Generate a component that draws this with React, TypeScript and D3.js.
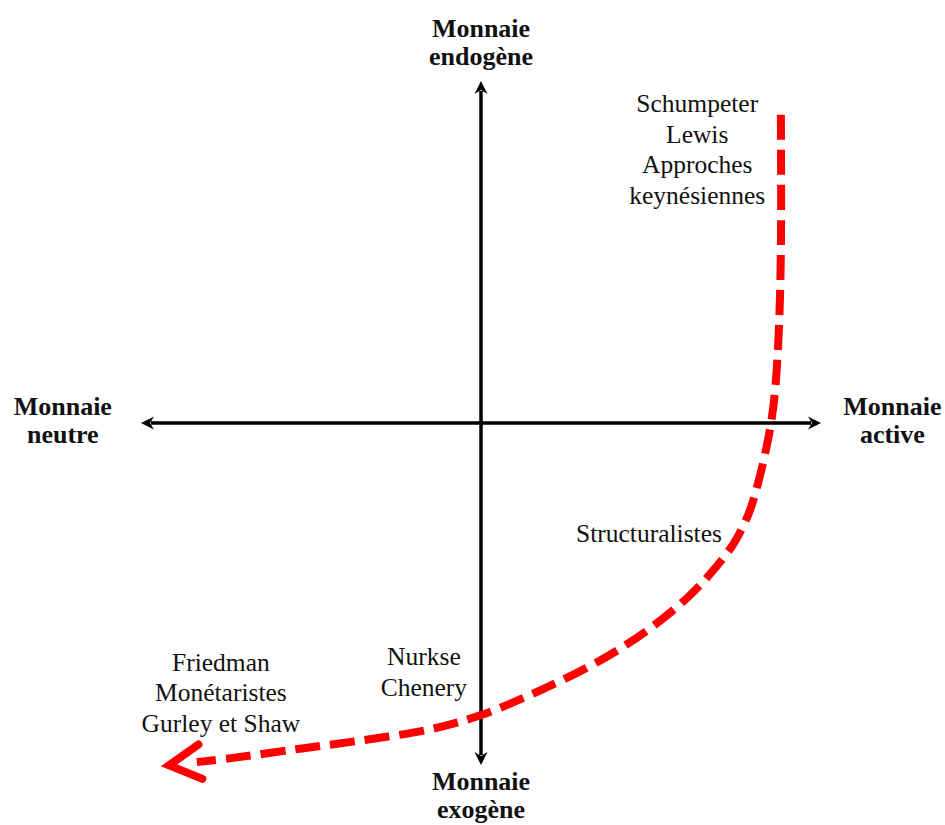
import React, { useEffect, useRef } from "react";
import * as d3 from "d3";

const width = 945;
const height = 825;

// curve of the red dashed arrow, in axis units (-1..1)
const curveX = [0.882, 0.882, 0.876, 0.865, 0.853, 0.838, 0.815, 0.788, 0.744, 0.676, 0.609, 0.491, 0.353, 0.176, 0.0, -0.147, -0.344, -0.538, -0.735, -0.9];
const curveY = [0.901, 0.506, 0.272, 0.096, 0.0, -0.079, -0.175, -0.263, -0.351, -0.439, -0.509, -0.605, -0.693, -0.781, -0.854, -0.895, -0.927, -0.953, -0.98, -0.999];

// axis end labels (x = centre, y = first baseline)
const axisLabels = [
  { lines: ["Monnaie", "endogène"], x: 0, y: 1.13 },
  { lines: ["Monnaie", "exogène"], x: 0, y: -1.073 },
  { lines: ["Monnaie", "neutre"], x: -1.23, y: 0.023 },
  { lines: ["Monnaie", "active"], x: 1.21, y: 0.023 },
];

// school / author labels (x = centre, y = first baseline)
const schoolLabels = [
  { lines: ["Schumpeter", "Lewis", "Approches", "keynésiennes"], x: 0.636, y: 0.909 },
  { lines: ["Structuralistes"], x: 0.494, y: -0.348 },
  { lines: ["Nurkse", "Chenery"], x: -0.168, y: -0.709 },
  { lines: ["Friedman", "Monétaristes", "Gurley et Shaw"], x: -0.765, y: -0.725 },
];

const serif = "'Liberation Serif', 'Times New Roman', serif";

export default function App() {
  const svgRef = useRef<SVGSVGElement>(null);

  useEffect(() => {
    const svg = d3.select(svgRef.current);
    svg.selectAll("*").remove();

    //scales: axis units to pixels, origin where the axes cross
    const x = d3.scaleLinear().domain([-1, 1]).range([141, 821]);
    const y = d3.scaleLinear().domain([-1, 1]).range([765, 81]);

    const axes = svg.append("g");
    axes.append("line")
      .attr("x1", x(-1) + 10).attr("x2", x(1) - 10)
      .attr("y1", y(0)).attr("y2", y(0))
      .attr("stroke", "#000").attr("stroke-width", 3.5);
    axes.append("line")
      .attr("x1", x(0)).attr("x2", x(0))
      .attr("y1", y(1) + 10).attr("y2", y(-1) - 10)
      .attr("stroke", "#000").attr("stroke-width", 3.5);

    // arrowheads: tip at (tx,ty) pointing along angle a
    const head = (tx: number, ty: number, a: number) => {
      const len = 13, half = 6.5, notch = 9;
      const pts = [
        [0, 0],
        [-len, -half],
        [-notch, 0],
        [-len, half],
      ].map(([px, py]) => [
        tx + px * Math.cos(a) - py * Math.sin(a),
        ty + px * Math.sin(a) + py * Math.cos(a),
      ]);
      return "M" + pts.map((p) => p.join(",")).join("L") + "Z";
    };
    const tips: [number, number, number][] = [
      [x(1), y(0), 0],
      [x(-1), y(0), Math.PI],
      [x(0), y(1), -Math.PI / 2],
      [x(0), y(-1), Math.PI / 2],
    ];
    axes.selectAll("path")
      .data(tips)
      .enter()
      .append("path")
      .attr("d", (d) => head(d[0], d[1], d[2]))
      .attr("fill", "#000");

    // red dashed curve
    const pts: [number, number][] = curveX.map((v, i) => [x(v), y(curveY[i])]);
    const line = d3.line().curve(d3.curveCatmullRom.alpha(0.5));
    const body = pts.slice(0, pts.length - 1);
    const last = pts[pts.length - 1];
    const prev = pts[pts.length - 2];
    const ang = Math.atan2(last[1] - prev[1], last[0] - prev[0]);
    const tip: [number, number] = [last[0] + 6 * Math.cos(ang), last[1] + 6 * Math.sin(ang)];
    svg.append("path")
      .attr("d", line([...body, [last[0] + 22 * Math.cos(ang + Math.PI), last[1] + 22 * Math.sin(ang + Math.PI)]]))
      .attr("fill", "none")
      .attr("stroke", "#ff0000")
      .attr("stroke-width", 8)
      .attr("stroke-dasharray", "25 10");

    // open chevron at the end of the curve
    const wing = 36, spread = 0.5;
    const chevron = [
      [tip[0] - wing * Math.cos(ang - spread), tip[1] - wing * Math.sin(ang - spread)],
      tip,
      [tip[0] - wing * Math.cos(ang + spread), tip[1] - wing * Math.sin(ang + spread)],
    ];
    svg.append("path")
      .attr("d", "M" + chevron.map((p) => p.join(",")).join("L"))
      .attr("fill", "none")
      .attr("stroke", "#ff0000")
      .attr("stroke-width", 8)
      .attr("stroke-linecap", "round")
      .attr("stroke-linejoin", "miter");

    // axis labels (bold)
    const lh = 28;
    axisLabels.forEach((d) => {
      const t = svg.append("text")
        .attr("text-anchor", "middle")
        .attr("font-family", serif)
        .attr("font-weight", "bold")
        .attr("font-size", 26)
        .attr("fill", "#111");
      d.lines.forEach((s, i) => {
        t.append("tspan").attr("x", x(d.x)).attr("y", y(d.y) + i * lh).text(s);
      });
    });

    // school labels
    schoolLabels.forEach((d) => {
      const t = svg.append("text")
        .attr("text-anchor", "middle")
        .attr("font-family", serif)
        .attr("font-size", 25.5)
        .attr("fill", "#111");
      d.lines.forEach((s, i) => {
        t.append("tspan").attr("x", x(d.x)).attr("y", y(d.y) + i * 30.5).text(s);
      });
    });
  }, []);

  return (
    <svg
      ref={svgRef}
      width={width}
      height={height}
      style={{ position: "absolute", left: 0, top: 0, background: "#fff" }}
    />
  );
}
